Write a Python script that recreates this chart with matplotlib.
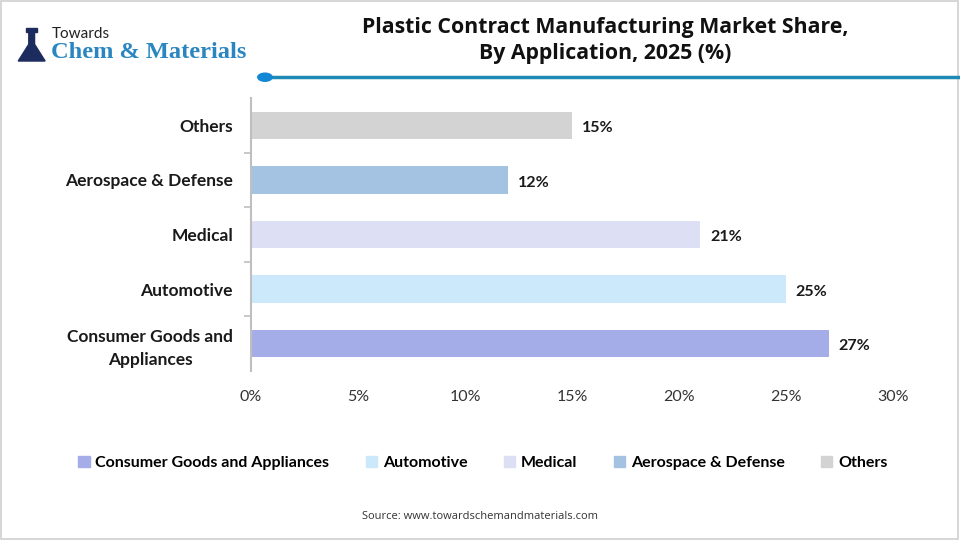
import matplotlib.pyplot as plt
from matplotlib.patches import Rectangle, Circle, Polygon
from matplotlib.lines import Line2D

categories = ['Consumer Goods and\nAppliances', 'Automotive', 'Medical', 'Aerospace & Defense', 'Others']
legend_names = ['Consumer Goods and Appliances', 'Automotive', 'Medical', 'Aerospace & Defense', 'Others']
shares = [27, 25, 21, 12, 15]
colors = ['#A5ADE9', '#CCE9FB', '#DDE0F4', '#A4C3E3', '#D3D3D3']
xticks = [0, 5, 10, 15, 20, 25, 30]

plt.rcParams['font.family'] = ['Lato', 'DejaVu Sans']

fig = plt.figure(figsize=(9.6, 5.4), dpi=100)
fig.patch.set_facecolor('white')

# border around the picture
fig.add_artist(Rectangle((0.001, 0.002), 0.997, 0.996, transform=fig.transFigure,
                         fill=False, edgecolor='#D0D0D0', linewidth=1.2))

ax = fig.add_axes([0.2615, 0.313, 0.6688, 0.5055])
y = list(range(len(categories)))
ax.barh(y, shares, height=0.5, color=colors)
for yi, v in zip(y, shares):
    ax.text(v + 0.45, yi - 0.05, f'{v}%', va='center', ha='left', fontsize=11.5,
            fontweight='bold', color='#1A1A1A')

ax.set_xlim(0, 30)
ax.set_ylim(-0.5, 4.5)
ax.set_xticks(xticks)
ax.set_xticklabels([f'{t}%' for t in xticks], fontsize=11.5, color='#333333')
ax.set_yticks(y)
ax.set_yticklabels(categories, fontsize=12.5, fontweight='bold', color='#1A1A1A',
                   multialignment='center', linespacing=1.5)
ax.tick_params(axis='x', length=0, pad=14)
ax.tick_params(axis='y', length=0, pad=13)
# minor ticks at category boundaries
ax.set_yticks([i + 0.5 for i in range(len(categories) - 1)], minor=True)
ax.tick_params(axis='y', which='minor', length=5, color='#BFBFBF', width=1.2)
for s in ['top', 'right', 'bottom']:
    ax.spines[s].set_visible(False)
ax.spines['left'].set_color('#BFBFBF')
ax.spines['left'].set_linewidth(1.5)

# legend
handles = [Rectangle((0, 0), 1, 1, color=c) for c in colors]
fig.legend(handles, legend_names, loc='center', bbox_to_anchor=(0.503, 0.142), ncol=5,
           frameon=False, handlelength=0.7, handleheight=0.7,
           handletextpad=0.35, columnspacing=2.3, prop={'weight': 'bold', 'size': 11.5})

# title
fig.text(0.63, 0.925, 'Plastic Contract Manufacturing Market Share,\nBy Application, 2025 (%)',
         ha='center', va='center', fontsize=15.3, fontweight='bold', color='#111111',
         family=['Open Sans', 'DejaVu Sans'], linespacing=1.35)

# decorative line with dot
fig.add_artist(Line2D([0.276, 0.999], [0.857, 0.857], transform=fig.transFigure,
                      color='#1F8AB4', linewidth=2.5))
fig.add_artist(Circle((0.276, 0.857), 0.0075, transform=fig.transFigure,
                      color='#1287D6', zorder=5))

# logo flask
fig.add_artist(Polygon([[0.019, 0.887], [0.030, 0.918], [0.030, 0.940], [0.036, 0.940],
                        [0.036, 0.918], [0.047, 0.887]], closed=True,
                       transform=fig.transFigure, color='#1C2C5E'))
fig.add_artist(Rectangle((0.027, 0.940), 0.012, 0.008, transform=fig.transFigure,
                         color='#1C2C5E'))
fig.text(0.054, 0.937, 'Towards', fontsize=11, color='#222222', va='center', ha='left')
fig.text(0.053, 0.903, 'Chem & Materials', fontsize=17.6, fontweight='bold', color='#2A86C0',
         va='center', ha='left', family=['Liberation Serif', 'DejaVu Serif'])

fig.text(0.5, 0.044, 'Source: www.towardschemandmaterials.com', ha='center', va='center',
         fontsize=8, color='#333333', family=['Open Sans', 'DejaVu Sans'])

fig.savefig('out.png', dpi=100, facecolor='white')
